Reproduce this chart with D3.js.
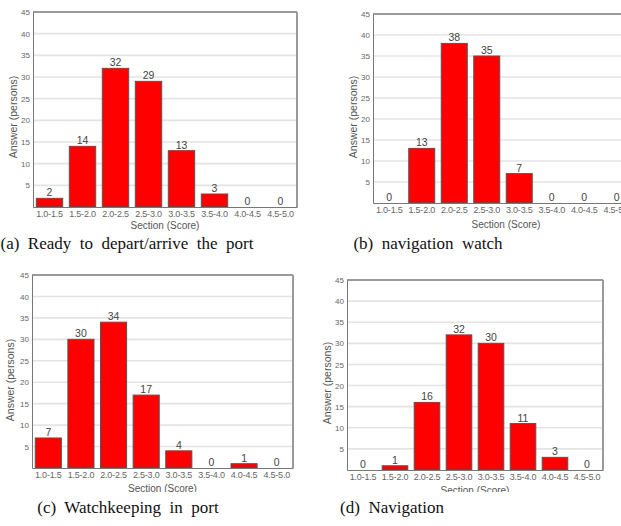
<!DOCTYPE html>
<html>
<head>
<meta charset="utf-8">
<script src="https://d3js.org/d3.v7.min.js"></script>
<style>
  body { margin: 0; background: #fff; }
  svg { display: block; }
</style>
</head>
<body>
<script>
// data
var sections = ["1.0-1.5", "1.5-2.0", "2.0-2.5", "2.5-3.0", "3.0-3.5", "3.5-4.0", "4.0-4.5", "4.5-5.0"];
var readyPort = [2, 14, 32, 29, 13, 3, 0, 0];
var navWatch = [0, 13, 38, 35, 7, 0, 0, 0];
var watchPort = [7, 30, 34, 17, 4, 0, 1, 0];
var navigation = [0, 1, 16, 32, 30, 11, 3, 0];
var yTicks = [5, 10, 15, 20, 25, 30, 35, 40, 45];
var captions = ["(a)  Ready  to  depart/arrive  the  port", "(b)  navigation  watch",
                "(c)  Watchkeeping  in  port", "(d)  Navigation"];

var W = 621, H = 526;
var svg = d3.select("body").append("svg")
    .attr("width", W)
    .attr("height", H);

// panel frames (pixel layout); panel (b) runs past the right edge as in the source
var panels = [
  {values: readyPort,  x0: 33,  x1: 297, y0: 12,  y1: 207, ylx: 13,  yly: 117, xty: 229, cap: captions[0], cx: 127, cy: 249},
  {values: navWatch,   x0: 373, x1: 633, y0: 14,  y1: 203, ylx: 353, yly: 117, xty: 228, cap: captions[1], cx: 428, cy: 249},
  {values: watchPort,  x0: 32,  x1: 293, y0: 275, y1: 468, ylx: 10,  yly: 380, xty: 492, cap: captions[2], cx: 128, cy: 513},
  {values: navigation, x0: 347, x1: 603, y0: 280, y1: 470, ylx: 327, yly: 383, xty: 494, cap: captions[3], cx: 392, cy: 513}
];

panels.forEach(function(p) {
  var g = svg.append("g");

  var x = d3.scaleBand()
      .domain(sections)
      .range([p.x0, p.x1])
      .paddingInner(0.2)
      .paddingOuter(0.1);

  var y = d3.scaleLinear()
      .domain([0, 45])
      .range([p.y1, p.y0]);

  // gridlines
  g.selectAll(".grid")
    .data(yTicks.slice(0, -1))
    .enter().append("line")
      .attr("x1", p.x0).attr("x2", p.x1)
      .attr("y1", function(d) { return y(d); })
      .attr("y2", function(d) { return y(d); })
      .attr("stroke", "#e4e4e4")
      .attr("stroke-width", 1.6);

  // frame: top/right lighter, thicker
  g.append("line")
    .attr("x1", p.x0).attr("x2", p.x1).attr("y1", p.y0).attr("y2", p.y0)
    .attr("stroke", "#9a9a9a").attr("stroke-width", 2);
  g.append("line")
    .attr("x1", p.x1).attr("x2", p.x1).attr("y1", p.y0).attr("y2", p.y1)
    .attr("stroke", "#9a9a9a").attr("stroke-width", 2);

  // bars
  g.selectAll(".bar")
    .data(p.values)
    .enter().append("rect")
      .attr("x", function(d, i) { return x(sections[i]); })
      .attr("width", x.bandwidth())
      .attr("y", function(d) { return y(d); })
      .attr("height", function(d) { return y(0) - y(d); })
      .attr("fill", "#ff0000")
      .attr("stroke", "#555")
      .attr("stroke-width", 1);

  // value labels
  g.selectAll(".val")
    .data(p.values)
    .enter().append("text")
      .attr("x", function(d, i) { return x(sections[i]) + x.bandwidth() / 2; })
      .attr("y", function(d) { return y(d) - 2; })
      .attr("text-anchor", "middle")
      .style("font-family", "Liberation Sans, Arial, sans-serif")
      .style("font-size", "10.5px")
      .attr("fill", "#444")
      .text(function(d) { return d; });

  // axes
  var yAxis = g.append("g")
      .attr("transform", "translate(" + p.x0 + ",0)")
      .call(d3.axisLeft(y).tickValues(yTicks).tickSize(0).tickPadding(3));
  yAxis.select(".domain").attr("stroke", "#777");
  yAxis.selectAll("text")
      .style("font-family", "Liberation Sans, Arial, sans-serif")
      .style("font-size", "8px")
      .attr("fill", "#666");

  var xAxis = g.append("g")
      .attr("transform", "translate(0," + p.y1 + ")")
      .call(d3.axisBottom(x).tickSize(0).tickPadding(4));
  xAxis.select(".domain").attr("stroke", "#777");
  xAxis.selectAll("text")
      .style("font-family", "Liberation Sans, Arial, sans-serif")
      .style("font-size", "9px")
      .style("letter-spacing", "-0.2px")
      .attr("fill", "#666");

  // axis titles
  g.append("text")
    .attr("transform", "translate(" + p.ylx + "," + p.yly + ") rotate(-90)")
    .attr("text-anchor", "middle")
    .attr("dy", "0.35em")
    .style("font-family", "Liberation Sans, Arial, sans-serif")
    .style("font-size", "10.5px")
    .attr("fill", "#555")
    .text("Answer (persons)");

  g.append("text")
    .attr("x", (p.x0 + Math.min(p.x1, 621)) / 2 + (p.x1 > W ? 9 : 0))
    .attr("y", p.xty)
    .attr("text-anchor", "middle")
    .style("font-family", "Liberation Sans, Arial, sans-serif")
    .style("font-size", "10px")
    .attr("fill", "#555")
    .text("Section (Score)");
});

// the lower titles are partly covered by the caption strip
svg.append("rect")
  .attr("x", 0).attr("y", 492).attr("width", W).attr("height", H - 492)
  .attr("fill", "#fff");

panels.forEach(function(p) {
  svg.append("text")
    .attr("x", p.cx)
    .attr("y", p.cy)
    .attr("text-anchor", "middle")
    .style("font-family", "Liberation Serif, Times New Roman, serif")
    .style("font-size", "17px")
    .style("white-space", "pre")
    .attr("fill", "#111")
    .text(p.cap);
});
</script>
</body>
</html>
